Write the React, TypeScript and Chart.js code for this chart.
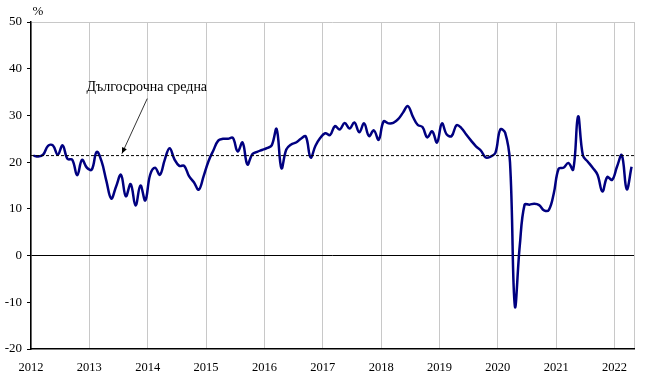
import React, { useEffect, useRef } from 'react';
import { Chart, registerables } from 'chart.js';

Chart.register(...registerables);

// ---- Data ----
const yearLabels = ['2012', '2013', '2014', '2015', '2016', '2017', '2018', '2019', '2020', '2021', '2022'];
const monthsPerYear = 12;
const axisMonths = 124; // Jan 2012 – Apr 2022
const longTermAverage = 21.4;
const averageLabel = 'Дългосрочна средна';
const unitLabel = '%';
const yMin = -20;
const yMax = 50;
const yStep = 10;

const values2012 = [21.4, 21.2, 21.6, 23.5, 23.6, 21.6, 23.6, 20.7, 20.5, 17.2, 20.5, 18.8];
const values2013 = [18.4, 22.2, 20.2, 16.0, 12.2, 14.8, 17.3, 12.7, 15.3, 10.7, 15.0, 11.8];
const values2014 = [17.3, 18.8, 17.3, 20.5, 23.0, 20.6, 19.2, 19.2, 17.0, 15.7, 14.1, 17.0];
const values2015 = [20.2, 22.5, 24.6, 25.0, 25.0, 25.2, 22.3, 24.2, 19.5, 21.7, 22.2, 22.6];
const values2016 = [23.0, 23.6, 27.1, 18.7, 22.7, 23.8, 24.2, 25.0, 25.5, 21.0, 23.5, 25.2];
const values2017 = [26.2, 25.8, 27.7, 27.0, 28.4, 27.2, 28.5, 26.4, 28.3, 25.6, 26.8, 24.8];
const values2018 = [28.7, 28.3, 28.4, 29.2, 30.6, 32.0, 29.8, 28.0, 27.5, 25.3, 26.6, 24.2];
const values2019 = [28.3, 25.9, 25.6, 27.9, 27.3, 25.9, 24.6, 23.4, 22.5, 21.0, 21.2, 22.0];
const values2020 = [27.0, 26.3, 20.0, -10.8, 2.0, 10.9, 10.9, 11.1, 10.8, 9.7, 9.8, 13.3];
const values2021 = [18.6, 18.8, 19.8, 18.4, 29.8, 21.4, 20.1, 18.8, 17.3, 13.7, 16.8, 16.2];
const values2022 = [19.0, 21.5, 14.2, 19.0];

const seriesValues = [
  ...values2012, ...values2013, ...values2014, ...values2015, ...values2016, ...values2017,
  ...values2018, ...values2019, ...values2020, ...values2021, ...values2022,
];

// annotation anchor (data coordinates: month index, value)
const annotationTextPos = { x: 23.8, y: 36 };
const annotationArrowStart = { x: 23.9, y: 33.6 };
const annotationArrowEnd = { x: 18.7, y: longTermAverage };

const FONT = '"Liberation Serif", "Times New Roman", serif';

const annotationPlugin = {
  id: 'annot',
  afterDatasetsDraw(chart: any) {
    const { ctx, scales, chartArea } = chart;
    const xs = scales.x;
    const ys = scales.y;
    ctx.save();
    // unit label
    ctx.fillStyle = '#000';
    ctx.font = `13px ${FONT}`;
    ctx.textAlign = 'center';
    ctx.textBaseline = 'middle';
    ctx.fillText(unitLabel, chartArea.left + 7, chartArea.top - 10);
    // annotation text
    ctx.font = `14px ${FONT}`;
    ctx.fillText(averageLabel, xs.getPixelForValue(annotationTextPos.x), ys.getPixelForValue(annotationTextPos.y));
    // arrow
    const x1 = xs.getPixelForValue(annotationArrowStart.x);
    const y1 = ys.getPixelForValue(annotationArrowStart.y);
    const x2 = xs.getPixelForValue(annotationArrowEnd.x);
    const y2 = ys.getPixelForValue(annotationArrowEnd.y) - 2;
    ctx.strokeStyle = '#000';
    ctx.lineWidth = 0.8;
    ctx.beginPath();
    ctx.moveTo(x1, y1);
    ctx.lineTo(x2, y2);
    ctx.stroke();
    const ang = Math.atan2(y2 - y1, x2 - x1);
    const L = 6;
    const W = 2.6;
    ctx.beginPath();
    ctx.moveTo(x2, y2);
    ctx.lineTo(x2 - L * Math.cos(ang) + W * Math.sin(ang), y2 - L * Math.sin(ang) - W * Math.cos(ang));
    ctx.lineTo(x2 - L * Math.cos(ang) - W * Math.sin(ang), y2 - L * Math.sin(ang) + W * Math.cos(ang));
    ctx.closePath();
    ctx.fillStyle = '#000';
    ctx.fill();
    ctx.restore();
  },
};

export default function App() {
  const canvasRef = useRef<HTMLCanvasElement | null>(null);

  useEffect(() => {
    if (!canvasRef.current) return;
    const yearTicks = yearLabels.map((_, k) => k * monthsPerYear);
    const chart = new Chart(canvasRef.current, {
      type: 'line',
      data: {
        datasets: [
          {
            label: averageLabel,
            data: [
              { x: 0, y: longTermAverage },
              { x: axisMonths, y: longTermAverage },
            ],
            borderColor: '#000',
            borderWidth: 1,
            borderDash: [3, 2],
            pointRadius: 0,
            order: 0,
          },
          {
            label: 'series',
            data: seriesValues.map((v, i) => ({ x: i + 0.5, y: v })),
            borderColor: '#000080',
            borderWidth: 2.5,
            pointRadius: 0,
            tension: 0.4,
            fill: false,
            order: 1,
          },
        ],
      },
      options: {
        animation: false,
        responsive: false,
        maintainAspectRatio: false,
        layout: { padding: { top: 22, right: 11, bottom: 0, left: 0 } },
        plugins: { legend: { display: false }, tooltip: { enabled: false } },
        scales: {
          x: {
            type: 'linear',
            min: 0,
            max: axisMonths,
            afterBuildTicks: (scale: any) => {
              scale.ticks = [...yearTicks, axisMonths].map((v) => ({ value: v }));
            },
            afterFit: (scale: any) => {
              scale.height = 31;
            },
            ticks: {
              autoSkip: false,
              maxRotation: 0,
              padding: 11,
              color: '#000',
              font: { family: FONT, size: 12.5 },
              callback: (value: any) => {
                const k = Number(value) / monthsPerYear;
                return Number.isInteger(k) && k < yearLabels.length ? yearLabels[k] : '';
              },
            },
            grid: {
              color: '#c8c8c8',
              lineWidth: 1,
              drawTicks: false,
            },
            border: { color: '#000', width: 1.5 },
          },
          y: {
            min: yMin,
            max: yMax,
            afterFit: (scale: any) => {
              scale.width = 31;
            },
            ticks: {
              stepSize: yStep,
              padding: 5,
              color: '#000',
              font: { family: FONT, size: 13 },
            },
            grid: {
              color: (c: any) => (c.tick && c.tick.value === 0 ? '#000' : c.tick && c.tick.value === yMax ? '#c8c8c8' : 'rgba(0,0,0,0)'),
              tickColor: '#000',
              tickLength: 4,
              lineWidth: 1,
            },
            border: { color: '#000', width: 1.5 },
          },
        },
      },
      plugins: [annotationPlugin],
    } as any);
    return () => chart.destroy();
  }, []);

  return (
    <div style={{ position: 'absolute', left: 0, top: 0, width: 645, height: 380, background: '#fff' }}>
      <canvas ref={canvasRef} width={645} height={380} style={{ width: 645, height: 380 }} />
    </div>
  );
}
